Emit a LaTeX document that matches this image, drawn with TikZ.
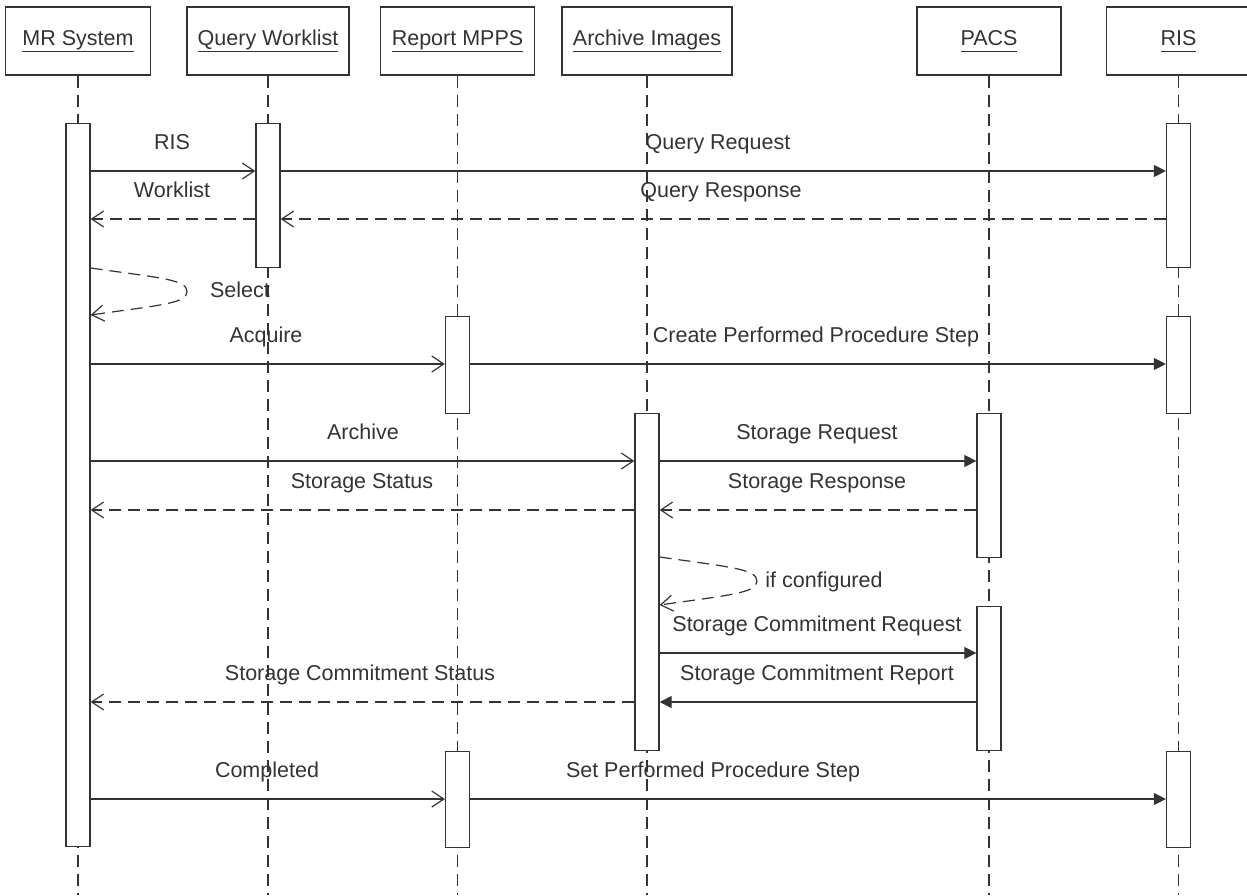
\documentclass[tikz,border=0pt]{standalone}
\usepackage{fontspec}
\setmainfont{Liberation Sans}
\usetikzlibrary{arrows.meta}
\definecolor{ink}{HTML}{333333}
\newcommand{\hdrtext}[1]{\underline{#1\vphantom{Qy}}}
\begin{document}
\begin{tikzpicture}[x=1pt,y=-1pt,font=\fontsize{21.5}{26}\selectfont,
  hdr/.style={draw=ink,line width=1.3pt,minimum width=#1,minimum height=68pt,inner sep=0pt,text=ink,text height=15pt,text depth=6pt},
  act/.style={draw=ink,fill=white,line width=1.3pt,minimum width=24pt,minimum height=#1,inner sep=0pt,anchor=north},
  life/.style={draw=ink,line width=1.3pt,dash pattern=on 12pt off 7pt},
  msg/.style={draw=ink,line width=1.2pt,-{Triangle[length=12pt,width=12pt]}},
  call/.style={draw=ink,line width=1.2pt,-{Straight Barb[length=12pt,width=16pt,line width=1.2pt]}},
  ret/.style={call,dash pattern=on 12pt off 7pt},
  lbl/.style={text=ink,anchor=base,inner sep=0pt}]
\useasboundingbox (0,0) rectangle (1247,895);
% headers
\node[hdr=145pt] (hMR) at (78,41) {\hdrtext{MR System}};
\node[hdr=162pt] (hQW) at (268,41) {\hdrtext{Query Worklist}};
\node[hdr=154pt] (hMP) at (457.5,41) {\hdrtext{Report MPPS}};
\node[hdr=170pt] (hAI) at (647,41) {\hdrtext{Archive Images}};
\node[hdr=144pt] (hPA) at (989,41) {\hdrtext{PACS}};
\node[hdr=144pt] (hRI) at (1178.5,41) {\hdrtext{RIS}};
% lifelines
\foreach \h in {hMR,hQW,hMP,hAI,hPA,hRI}
  \draw[life] (\h.south) -- (\h.south |- 0,895);
% activations
\node[act=723pt] (aMR) at (hMR.south |- 0,123) {};
\node[act=144pt] (aQW) at (hQW.south |- 0,123) {};
\node[act=144pt] (aR1) at (hRI.south |- 0,123) {};
\node[act=97pt]  (aR2) at (hRI.south |- 0,316) {};
\node[act=97pt]  (aM1) at (hMP.south |- 0,316) {};
\node[act=337pt] (aAI) at (hAI.south |- 0,413) {};
\node[act=144pt] (aP1) at (hPA.south |- 0,413) {};
\node[act=144pt] (aP2) at (hPA.south |- 0,606) {};
\node[act=96pt]  (aM2) at (hMP.south |- 0,751) {};
\node[act=96pt]  (aR3) at (hRI.south |- 0,751) {};
% message levels
\coordinate (y1) at (0,171);
\coordinate (y2) at (0,219);
\coordinate (y3a) at (0,268);
\coordinate (y3b) at (0,315);
\coordinate (selTip) at (187,291.5);
\coordinate (y4) at (0,364);
\coordinate (y5) at (0,461);
\coordinate (y6) at (0,510);
\coordinate (y7a) at (0,557);
\coordinate (y7b) at (0,605);
\coordinate (cfgTip) at (757,581);
\coordinate (y8) at (0,653);
\coordinate (y9) at (0,702);
\coordinate (y10) at (0,799);
% messages
\draw[call] (aMR.east |- y1) -- (aQW.west |- y1);
\draw[msg] (aQW.east |- y1) -- (aR1.west |- y1);
\draw[ret] (aR1.west |- y2) -- (aQW.east |- y2);
\draw[ret] (aQW.west |- y2) -- (aMR.east |- y2);
\draw[ret] (aMR.east |- y3a) .. controls +(70,10) and +(0,-12) .. (selTip)
  .. controls +(0,12) and +(70,-10) .. (aMR.east |- y3b);
\draw[call] (aMR.east |- y4) -- (aM1.west |- y4);
\draw[msg] (aM1.east |- y4) -- (aR2.west |- y4);
\draw[call] (aMR.east |- y5) -- (aAI.west |- y5);
\draw[msg] (aAI.east |- y5) -- (aP1.west |- y5);
\draw[ret] (aP1.west |- y6) -- (aAI.east |- y6);
\draw[ret] (aAI.west |- y6) -- (aMR.east |- y6);
\draw[ret] (aAI.east |- y7a) .. controls +(70,10) and +(0,-12) .. (cfgTip)
  .. controls +(0,12) and +(70,-10) .. (aAI.east |- y7b);
\draw[msg] (aAI.east |- y8) -- (aP2.west |- y8);
\draw[msg] (aP2.west |- y9) -- (aAI.east |- y9);
\draw[ret] (aAI.west |- y9) -- (aMR.east |- y9);
\draw[call] (aMR.east |- y10) -- (aM2.west |- y10);
\draw[msg] (aM2.east |- y10) -- (aR3.west |- y10);
% labels
\node[lbl] (t1) at (172,149) {RIS};
\node[lbl] (t2) at (172,197) {Worklist};
\node[lbl] (t3) at (718,149) {Query Request};
\node[lbl] (t4) at (721,197) {Query Response};
\node[lbl] (t5) at (240,297) {Select};
\node[lbl] (t6) at (266,342) {Acquire};
\node[lbl] (t7) at (816,342) {Create Performed Procedure Step};
\node[lbl] (t8) at (363,439) {Archive};
\node[lbl] (t9) at (817,439) {Storage Request};
\node[lbl] (t10) at (362,488) {Storage Status};
\node[lbl] (t11) at (817,488) {Storage Response};
\node[lbl] (t12) at (824,587) {if configured};
\node[lbl] (t13) at (817,631) {Storage Commitment Request};
\node[lbl] (t14) at (360,680) {Storage Commitment Status};
\node[lbl] (t15) at (817,680) {Storage Commitment Report};
\node[lbl] (t16) at (267,777) {Completed};
\node[lbl] (t17) at (713,777) {Set Performed Procedure Step};
\end{tikzpicture}
\end{document}
